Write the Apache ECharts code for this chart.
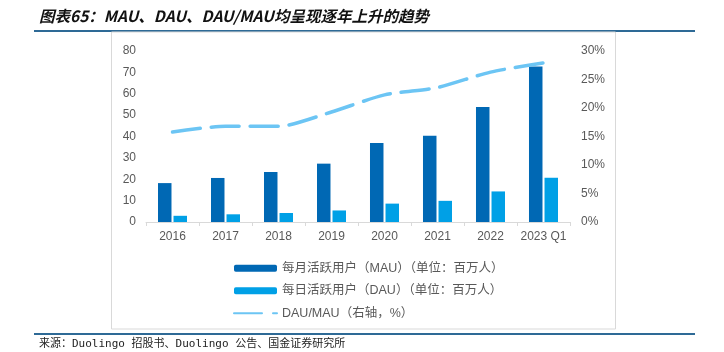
<!DOCTYPE html>
<html>
<head>
<meta charset="utf-8">
<script src="https://cdn.jsdelivr.net/npm/echarts@6/dist/echarts.min.js"></script>
<style>
  html, body { margin: 0; padding: 0; background: #fff; }
  #chart { width: 724px; height: 352px; }
</style>
</head>
<body>
<div id="chart"></div>
<script>
// categories and values
const years = ['2016', '2017', '2018', '2019', '2020', '2021', '2022', '2023 Q1']
const mau = [18.2, 20.6, 23.4, 27.3, 37.0, 40.3, 53.8, 72.8]
const dau = [2.9, 3.6, 4.2, 5.4, 8.6, 9.9, 14.3, 20.7]
const ratio = [15.8, 16.8, 16.8, 19.3, 22.3, 23.6, 26.3, 27.9]

const seriesNames = ['每月活跃用户（MAU）（单位：百万人）', '每日活跃用户（DAU）（单位：百万人）', 'DAU/MAU（右轴，%）']
const titleText = '图表65：MAU、DAU、DAU/MAU均呈现逐年上升的趋势'
const sourceText = '来源：Duolingo 招股书、Duolingo 公告、国金证券研究所'

const chart = echarts.init(document.getElementById('chart'))
const labelColor = '#595959'
const font = 'Arial, "Liberation Sans", "Noto Sans CJK SC", sans-serif'

const option = {
  animation: false,
  textStyle: { fontFamily: font },
  grid: { left: 146, right: 154, top: 51, bottom: 130 },
  graphic: [
    {
      type: 'text', left: 39, top: 8,
      style: { text: titleText, fontSize: 15.5, fontWeight: 'bold', fontStyle: 'italic', fill: '#111', fontFamily: '"Noto Sans CJK SC", sans-serif' }
    },
    { type: 'line', shape: { x1: 34, y1: 31, x2: 695, y2: 31 }, style: { stroke: '#2E6A96', lineWidth: 2 } },
    { type: 'rect', shape: { x: 111.5, y: 32, width: 504, height: 297 }, style: { fill: 'none', stroke: '#D9D9D9', lineWidth: 1 } },
    { type: 'line', shape: { x1: 34, y1: 334, x2: 695, y2: 334 }, style: { stroke: '#2E6A96', lineWidth: 2 } },
    {
      type: 'text', left: 39, top: 339,
      style: { text: sourceText, fontSize: 11, fill: '#222', fontFamily: '"DejaVu Sans Mono", "Noto Sans CJK SC", monospace' }
    }
  ],
  legend: {
    orient: 'vertical',
    left: 228, top: 257,
    itemWidth: 43, itemHeight: 7, itemGap: 10,
    textStyle: { fontSize: 12.5, color: labelColor },
    data: [
      seriesNames[0],
      seriesNames[1],
      { name: seriesNames[2], itemStyle: { opacity: 0 } }
    ]
  },
  xAxis: {
    type: 'category',
    data: years,
    axisLine: { lineStyle: { color: '#D9D9D9' } },
    axisTick: { show: true, length: 4, lineStyle: { color: '#D9D9D9' } },
    axisLabel: { color: labelColor, fontSize: 12, margin: 9, interval: 0 }
  },
  yAxis: [
    {
      type: 'value', min: 0, max: 80, interval: 10,
      splitLine: { show: false },
      axisLabel: { color: labelColor, fontSize: 12, margin: 10 }
    },
    {
      type: 'value', min: 0, max: 30, interval: 5,
      splitLine: { show: false },
      axisLabel: { color: labelColor, fontSize: 12, margin: 11, formatter: '{value}%' }
    }
  ],
  series: [
    {
      name: seriesNames[0], type: 'bar', data: mau,
      barWidth: 13.5, barGap: '15%',
      itemStyle: { color: '#0068B4' }
    },
    {
      name: seriesNames[1], type: 'bar', data: dau,
      barWidth: 13.5,
      itemStyle: { color: '#00A0E6' }
    },
    {
      name: seriesNames[2], type: 'line', data: ratio, yAxisIndex: 1,
      symbol: 'none', smooth: 0.25,
      lineStyle: { color: '#6CC5F4', width: 3.5, type: [28, 11], cap: 'round' },
      itemStyle: { color: '#6CC5F4' }
    }
  ]
}

chart.setOption(option)
</script>
</body>
</html>
